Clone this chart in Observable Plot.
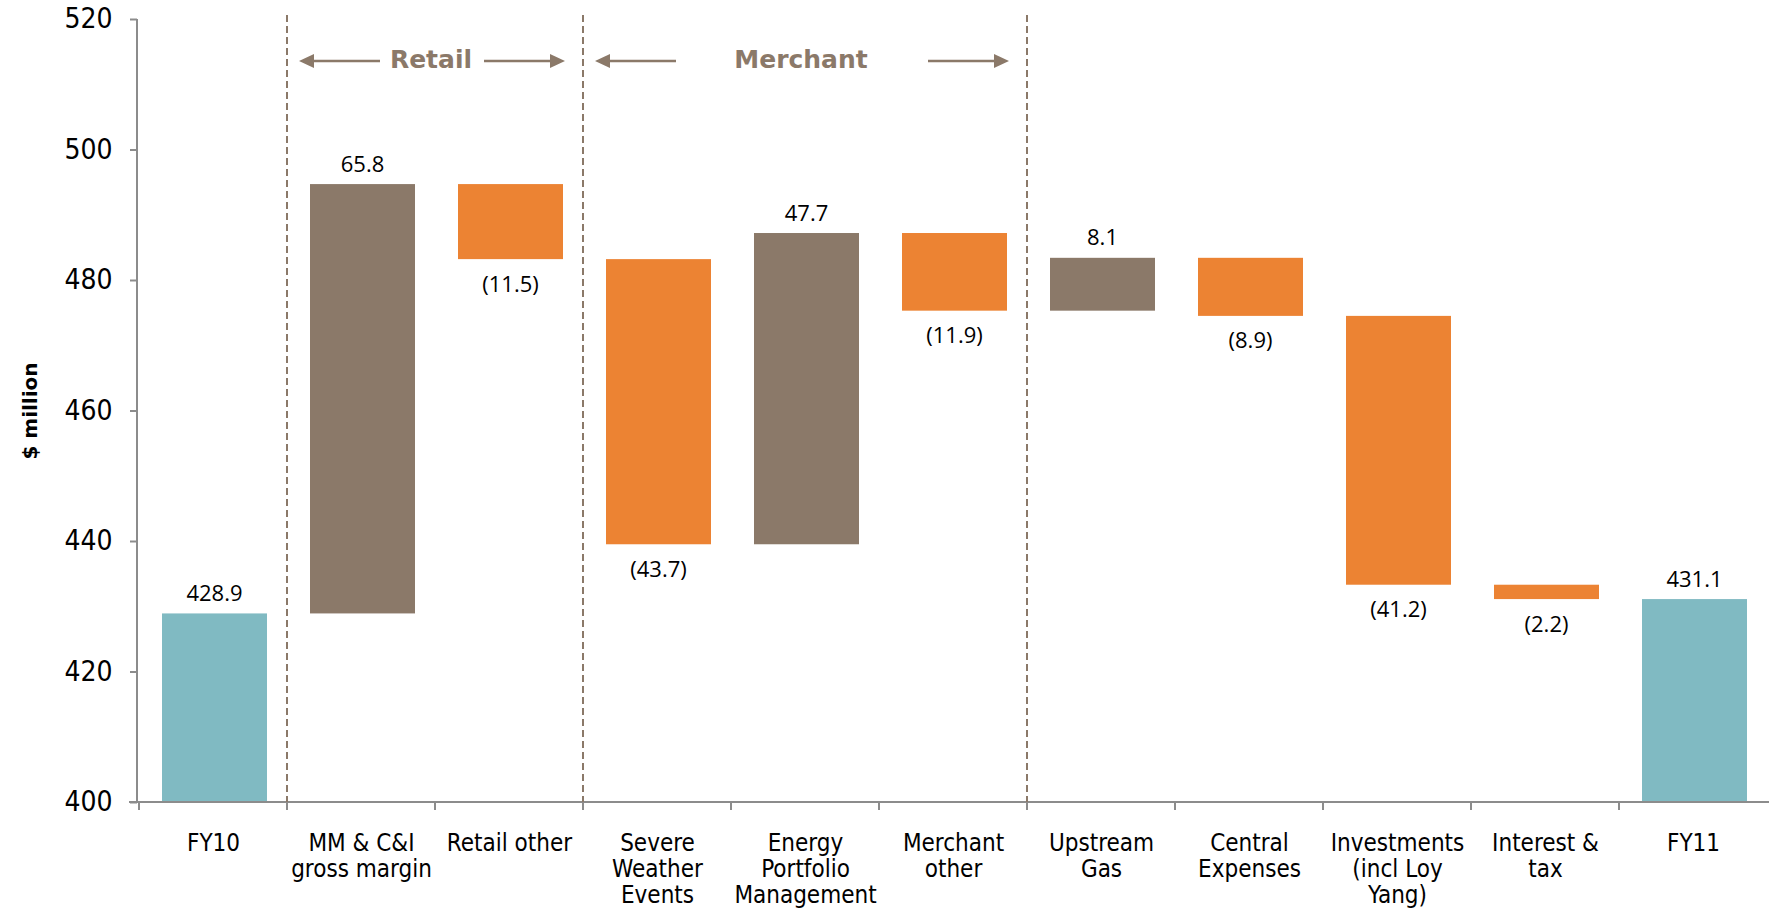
<!DOCTYPE html>
<html><head><meta charset="utf-8">
<script src="https://cdn.jsdelivr.net/npm/d3@7"></script>
<script src="https://cdn.jsdelivr.net/npm/@observablehq/plot@0.6"></script>
<style>body{margin:0;background:#fff} svg{display:block}</style>
</head><body><div id="chart"></div>
<script>
const categories = ["FY10","MM & C&I\ngross margin","Retail other","Severe\nWeather\nEvents","Energy\nPortfolio\nManagement","Merchant\nother","Upstream\nGas","Central\nExpenses","Investments\n(incl Loy\nYang)","Interest &\ntax","FY11"];
const changes = [428.9, 65.8, -11.5, -43.7, 47.7, -11.9, 8.1, -8.9, -41.2, -2.2, 431.1];
const kinds = ["total","up","down","down","up","down","up","down","down","down","total"];
const valueLabels = ["428.9","65.8","(11.5)","(43.7)","47.7","(11.9)","8.1","(8.9)","(41.2)","(2.2)","431.1"];
const yTicks = [400,420,440,460,480,500,520];
const groups = [
  {name:"Retail", first:"MM & C&I\ngross margin", last:"Retail other"},
  {name:"Merchant", first:"Severe\nWeather\nEvents", last:"Merchant\nother"}
];
const kindColors = {domain:["total","up","down"], range:["#80BAC2","#8B7969","#EC8333"]};
const brown = "#8B7969";
const axisGray = "#8c8c8c";

const rows = [];
let level = 0;
categories.forEach((c,i) => {
  const v = changes[i], k = kinds[i];
  let lo, hi;
  if (k === "total") { lo = yTicks[0]; hi = v; level = v; }
  else { const next = level + v; lo = Math.min(level,next); hi = Math.max(level,next); level = next; }
  rows.push({cat:c, kind:k, lo, hi, label:valueLabels[i]});
});

function overlay(index, scales, values, dims) {
  const x = scales.x, y = scales.y;
  const step = x(categories[1]) - x(categories[0]);
  const left = dims.marginLeft, right = dims.width - dims.marginRight;
  const top = dims.marginTop;
  const yb = y(yTicks[0]), yt = y(yTicks[yTicks.length-1]);
  const g = d3.create("svg:g");
  // axis lines
  g.append("line").attr("x1",left).attr("x2",left).attr("y1",yt).attr("y2",yb)
    .attr("stroke",axisGray).attr("stroke-width",2);
  g.append("line").attr("x1",left-8).attr("x2",right).attr("y1",yb).attr("y2",yb)
    .attr("stroke",axisGray).attr("stroke-width",2);
  categories.forEach(c => {
    g.append("line").attr("x1",x(c)).attr("x2",x(c)).attr("y1",yb).attr("y2",yb+8)
      .attr("stroke",axisGray).attr("stroke-width",2);
  });
  // dividers
  const edges = [];
  groups.forEach(gr => { edges.push(x(gr.first), x(gr.last)+step); });
  [...new Set(edges.map(e => Math.round(e*10)/10))].forEach(e => {
    g.append("line").attr("x1",e).attr("x2",e).attr("y1",top-4).attr("y2",yb)
      .attr("stroke",brown).attr("stroke-width",2).attr("stroke-dasharray","7,4");
  });
  // group headers with arrows
  const ay = top + 42;
  const arrow = (tail, tip) => {
    const dir = Math.sign(tip - tail), hl = 15, hw = 7;
    g.append("line").attr("x1",tail).attr("x2",tip - dir*hl).attr("y1",ay).attr("y2",ay)
      .attr("stroke",brown).attr("stroke-width",2.5);
    g.append("path").attr("d",`M${tip},${ay}L${tip-dir*hl},${ay-hw}L${tip-dir*hl},${ay+hw}Z`).attr("fill",brown);
  };
  groups.forEach(gr => {
    const x0 = x(gr.first), x1 = x(gr.last) + step, cx = (x0 + x1)/2 - 4;
    g.append("text").attr("x",cx).attr("y",ay-2).attr("text-anchor","middle")
      .attr("dominant-baseline","central").attr("font-family","DejaVu Sans")
      .attr("font-weight","bold").attr("font-size",25).attr("fill",brown).text(gr.name);
    arrow(x0 + 12 + 81, x0 + 12);
    arrow(x1 - 18 - 81, x1 - 18);
  });
  return g.node();
}

const chart = Plot.plot({
  width: 1769, height: 908,
  marginLeft: 137, marginRight: 0, marginTop: 19, marginBottom: 106,
  x: {domain: categories, padding: 0, axis: null},
  y: {domain: [yTicks[0], yTicks[yTicks.length-1]], axis: null},
  color: kindColors,
  style: {background: "white", color: "black", fontFamily: "DejaVu Sans"},
  marks: [
    Plot.axisY({ticks: yTicks, tickSize: 7, tickPadding: 18, fontSize: 28, fontFamily: "DejaVu Sans Condensed", stroke: axisGray, strokeWidth: 2, fill: "black", label: null}),
    Plot.barY(rows, {x: "cat", y1: "lo", y2: "hi", fill: "kind", insetLeft: 23, insetRight: 20}),
    Plot.text(rows.filter(d => d.kind !== "down"), {x: "cat", y: "hi", text: "label", lineAnchor: "middle", dy: -20, dx: 1, fontSize: 22, fontFamily: "Open Sans", fill: "black"}),
    Plot.text(rows.filter(d => d.kind === "down"), {x: "cat", y: "lo", text: "label", lineAnchor: "middle", dy: 25, dx: 1, fontSize: 22, fontFamily: "Open Sans", fill: "black"}),
    Plot.text(categories, {x: d => d, text: d => d, frameAnchor: "bottom", lineAnchor: "top", dy: 30, fontSize: 24, lineHeight: 1.08, fontFamily: "DejaVu Sans Condensed", fill: "black"}),
    Plot.text(["$ million"], {frameAnchor: "left", text: d => d, dx: -107, rotate: -90, textAnchor: "middle", fontWeight: "bold", fontSize: 20, fontFamily: "DejaVu Sans", fill: "black"}),
    overlay
  ]
});
document.getElementById("chart").appendChild(chart);
</script>
</body></html>
